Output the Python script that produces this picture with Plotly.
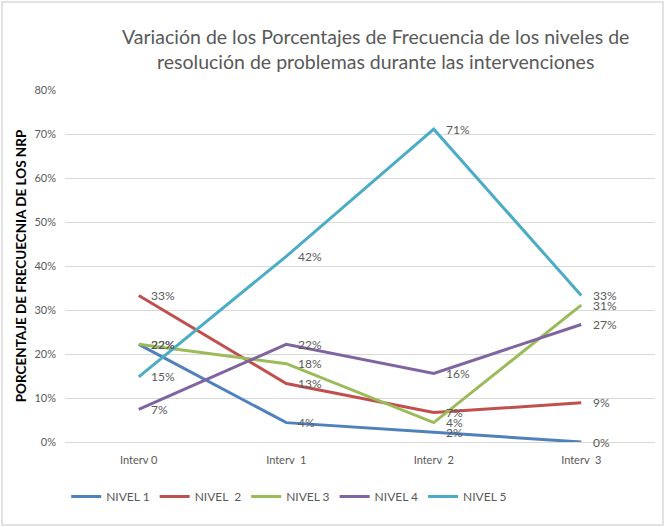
import plotly.graph_objects as go

categories = ["Interv 0", "Interv  1", "Interv  2", "Interv  3"]
series_names = ["NIVEL 1", "NIVEL  2", "NIVEL 3", "NIVEL 4", "NIVEL 5"]
nivel1 = [0.222, 0.044, 0.022, 0.000]
nivel2 = [0.333, 0.133, 0.067, 0.089]
nivel3 = [0.222, 0.178, 0.044, 0.311]
nivel4 = [0.074, 0.222, 0.156, 0.267]
nivel5 = [0.148, 0.422, 0.711, 0.333]
y_ticks = [0, 0.1, 0.2, 0.3, 0.4, 0.5, 0.6, 0.7, 0.8]

colors = ["#4F81BD", "#C0504D", "#9BBB59", "#8064A2", "#4BACC6"]
FONT = "Lato, Liberation Sans, sans-serif"

fig = go.Figure()
all_series = [nivel1, nivel2, nivel3, nivel4, nivel5]
for name, vals, col in zip(series_names, all_series, colors):
    fig.add_trace(go.Scatter(
        x=categories, y=vals, name=name, mode="lines",
        line=dict(color=col, width=3),
    ))
for vals in all_series:
    for c, v in zip(categories, vals):
        fig.add_annotation(x=c, y=v, text=f"{v*100:.0f}%", showarrow=False,
                           xanchor="left", yanchor="middle", xshift=10,
                           font=dict(color="#595959", size=12, family=FONT))

fig.update_layout(
    width=665, height=527,
    margin=dict(l=65, r=10, t=90, b=85),
    paper_bgcolor="white", plot_bgcolor="white",
    title=dict(
        text="Variación de los Porcentajes de Frecuencia de los niveles de<br>resolución de problemas durante las intervenciones",
        x=0.565, xanchor="center", y=0.917, yanchor="middle",
        font=dict(size=19.5, color="#595959", family=FONT),
    ),
    font=dict(family=FONT, color="#595959"),
    showlegend=True,
    legend=dict(orientation="h", x=0.38, xanchor="center", y=-0.155, yanchor="middle",
                font=dict(size=12, color="#595959", family=FONT), itemwidth=30,
                tracegroupgap=0),
    xaxis=dict(type="category", range=[-0.5, 3.5], showgrid=False,
               showline=True, linecolor="#D9D9D9", linewidth=1,
               ticks="", ticklabelstandoff=8,
               tickfont=dict(size=11, color="#595959", family=FONT)),
    yaxis=dict(range=[0, 0.8], tickvals=y_ticks, tickformat=".0%",
               showgrid=True, gridcolor="#D9D9D9", gridwidth=1,
               zeroline=False, ticks="", ticklabelstandoff=8,
               tickfont=dict(size=11, color="#595959", family=FONT),
               title=dict(text="<b>PORCENTAJE DE FRECUECNIA DE LOS NRP</b>",
                          font=dict(size=13.5, color="black", family=FONT), standoff=4)),
)

fig.add_shape(type="rect", xref="paper", yref="paper",
              x0=-63/590, x1=1 + 8/590, y0=-(527-442-2)/352, y1=1 + 88/352,
              line=dict(color="#D9D9D9", width=1.5), fillcolor="rgba(0,0,0,0)")

fig.write_html("out.html")
